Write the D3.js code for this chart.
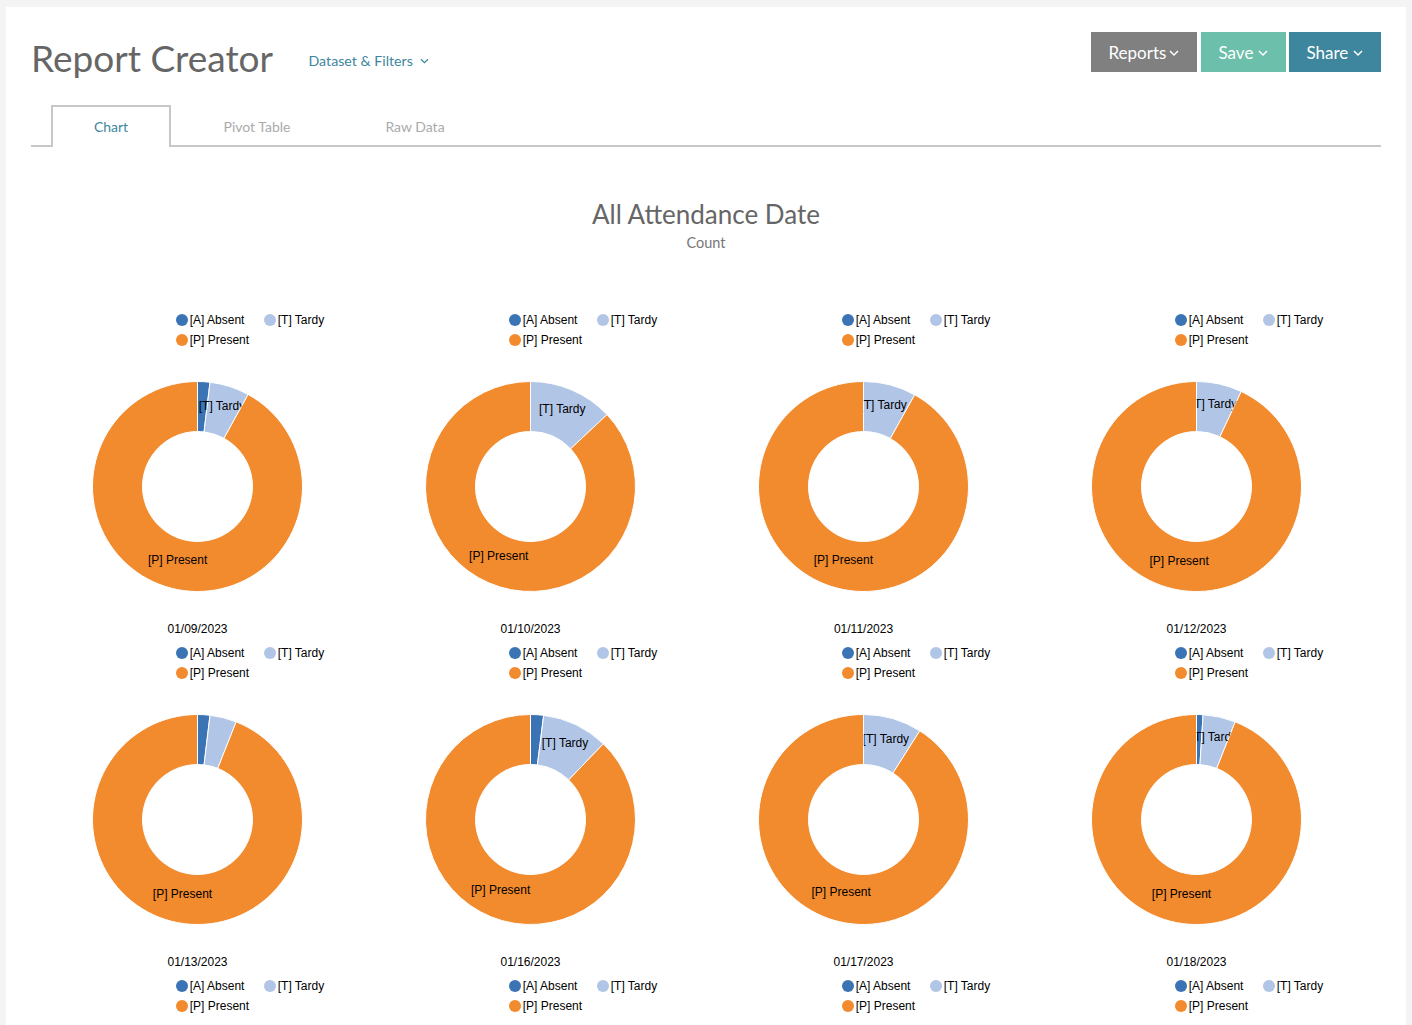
<!DOCTYPE html>
<html>
<head>
<meta charset="utf-8">
<title>Report Creator</title>
<script src="https://cdnjs.cloudflare.com/ajax/libs/d3/7.8.5/d3.min.js"></script>
<style>
html,body{margin:0;padding:0;background:#f4f4f4;overflow:hidden;}
svg{display:block;}
.ui{font-family:Lato,sans-serif;}
.chartText{font-family:"Liberation Sans",Arial,sans-serif;font-size:12px;fill:#000;}
</style>
</head>
<body>
<svg id="page" width="1412" height="1025"></svg>
<script>
var dates = ["01/09/2023","01/10/2023","01/11/2023","01/12/2023","01/13/2023","01/16/2023","01/17/2023","01/18/2023"];
var absentVals = [1.9,0,0,0,1.9,2,0,1];
var tardyVals = [6.1,13,8.1,7,4.1,10.2,9,5];
var presentVals = [92,87,91.9,93,94,87.8,91,94];
var statusNames = ["[A] Absent","[T] Tardy","[P] Present"];
var statusColors = ["#3b74b4","#b1c5e7","#f28a2e"];

var columnKeys = [0,1,2,3];
var rowKeys = [0,1,2];

var buttonNames = ["Reports","Save","Share"];
var tabNames = ["Chart","Pivot Table","Raw Data"];

const page = d3.select("#page");

// white panel
page.append("rect").attr("x",6).attr("y",7).attr("width",1400).attr("height",1018).attr("fill","#fff");

// header
page.append("text").attr("class","ui").attr("x",31).attr("y",72)
	.attr("font-size",37).attr("fill","#666").text("Report Creator");
page.append("text").attr("class","ui").attr("x",308.5).attr("y",66)
	.attr("font-size",14.2).attr("fill","#3d869e").text("Dataset & Filters");
chevron(page,424.5,61,"#3d869e",3.5,1.2);

var buttonX = [1091,1201,1289];
var buttonW = [106,85,92];
var buttonFill = ["#808080","#6cbfaa","#3d869e"];
var buttonTextX = [1108.5,1218.5,1306.5];
var buttonChevX = [1174,1263,1358];
buttonNames.forEach(function(name,i){
	page.append("rect").attr("x",buttonX[i]).attr("y",32).attr("width",buttonW[i]).attr("height",40).attr("fill",buttonFill[i]);
	page.append("text").attr("class","ui").attr("x",buttonTextX[i]).attr("y",59)
		.attr("font-size",17).attr("fill","#fff").text(name);
	chevron(page,buttonChevX[i],53,"#fff",4,1.5);
});

// tabs
page.append("path")
	.attr("d","M31,146H52V106H170V146H1381")
	.attr("fill","none").attr("stroke","#c8c8c8").attr("stroke-width",2);
var tabX = [111,257,415];
var tabFill = ["#3d869e","#aaa","#aaa"];
tabNames.forEach(function(name,i){
	page.append("text").attr("class","ui").attr("x",tabX[i]).attr("y",132)
		.attr("text-anchor","middle").attr("font-size",14).attr("fill",tabFill[i]).text(name);
});

// chart title
page.append("text").attr("class","ui").attr("x",706).attr("y",224)
	.attr("text-anchor","middle").attr("font-size",26).attr("fill","#666").text("All Attendance Date");
page.append("text").attr("class","ui").attr("x",706).attr("y",248)
	.attr("text-anchor","middle").attr("font-size",14.5).attr("fill","#777").text("Count");

// small multiples
var xCell = d3.scalePoint().domain(columnKeys).range([197.5,1196.5]);
var yCell = d3.scalePoint().domain(rowKeys).range([486.5,1152.5]);

var pie = d3.pie().sort(null).value(function(d){return d;});
var arc = d3.arc().innerRadius(55).outerRadius(105);
var labelArc = d3.arc().innerRadius(55).outerRadius(105);

var clipCount = 0;

function drawLegend(g){
	var entryX = [-15.5,72.5,-15.5];
	var entryY = [-166.5,-166.5,-146.5];
	statusNames.forEach(function(name,i){
		g.append("circle").attr("cx",entryX[i]).attr("cy",entryY[i]).attr("r",6).attr("fill",statusColors[i]);
		g.append("text").attr("class","chartText").attr("x",entryX[i]+7.75).attr("y",entryY[i]+4).text(name);
	});
}

function drawDonut(g,i){
	var slices = pie([absentVals[i],tardyVals[i],presentVals[i]]);
	var total = d3.sum(slices,function(d){return d.value;});

	g.selectAll("path.slice")
	.data(slices)
	.enter()
	.append("path")
	.attr("class","slice")
	.attr("d",arc)
	.attr("fill",function(d,j){return statusColors[j];})
	.attr("stroke","#fff")
	.attr("stroke-width",1);

	slices.forEach(function(d,j){
		// small slices get no label
		if(d.value/total<0.05){
			return;
		}
		var id = "sweep"+(clipCount++);
		g.append("clipPath").attr("id",id)
		.append("path")
		.attr("d",d3.arc().innerRadius(0).outerRadius(105).startAngle(0).endAngle(d.endAngle)());
		var c = labelArc.centroid(d);
		g.append("text")
		.attr("class","chartText")
		.attr("clip-path","url(#"+id+")")
		.attr("x",c[0])
		.attr("y",c[1])
		.attr("text-anchor","middle")
		.text(statusNames[j]);
	});

	g.append("text")
	.attr("class","chartText")
	.attr("x",0)
	.attr("y",146.5)
	.attr("text-anchor","middle")
	.text(dates[i]);
}

rowKeys.forEach(function(r){
	columnKeys.forEach(function(c){
		var g = page.append("g").attr("transform","translate("+xCell(c)+","+yCell(r)+")");
		drawLegend(g);
		var i = r*columnKeys.length+c;
		if(i<dates.length){
			drawDonut(g,i);
		}
	});
});

function chevron(sel,x,y,color,w,sw){
	sel.append("path")
	.attr("d","M"+(x-w)+","+(y-w/2)+"L"+x+","+(y+w/2)+"L"+(x+w)+","+(y-w/2))
	.attr("fill","none").attr("stroke",color).attr("stroke-width",sw);
}
</script>
</body>
</html>
